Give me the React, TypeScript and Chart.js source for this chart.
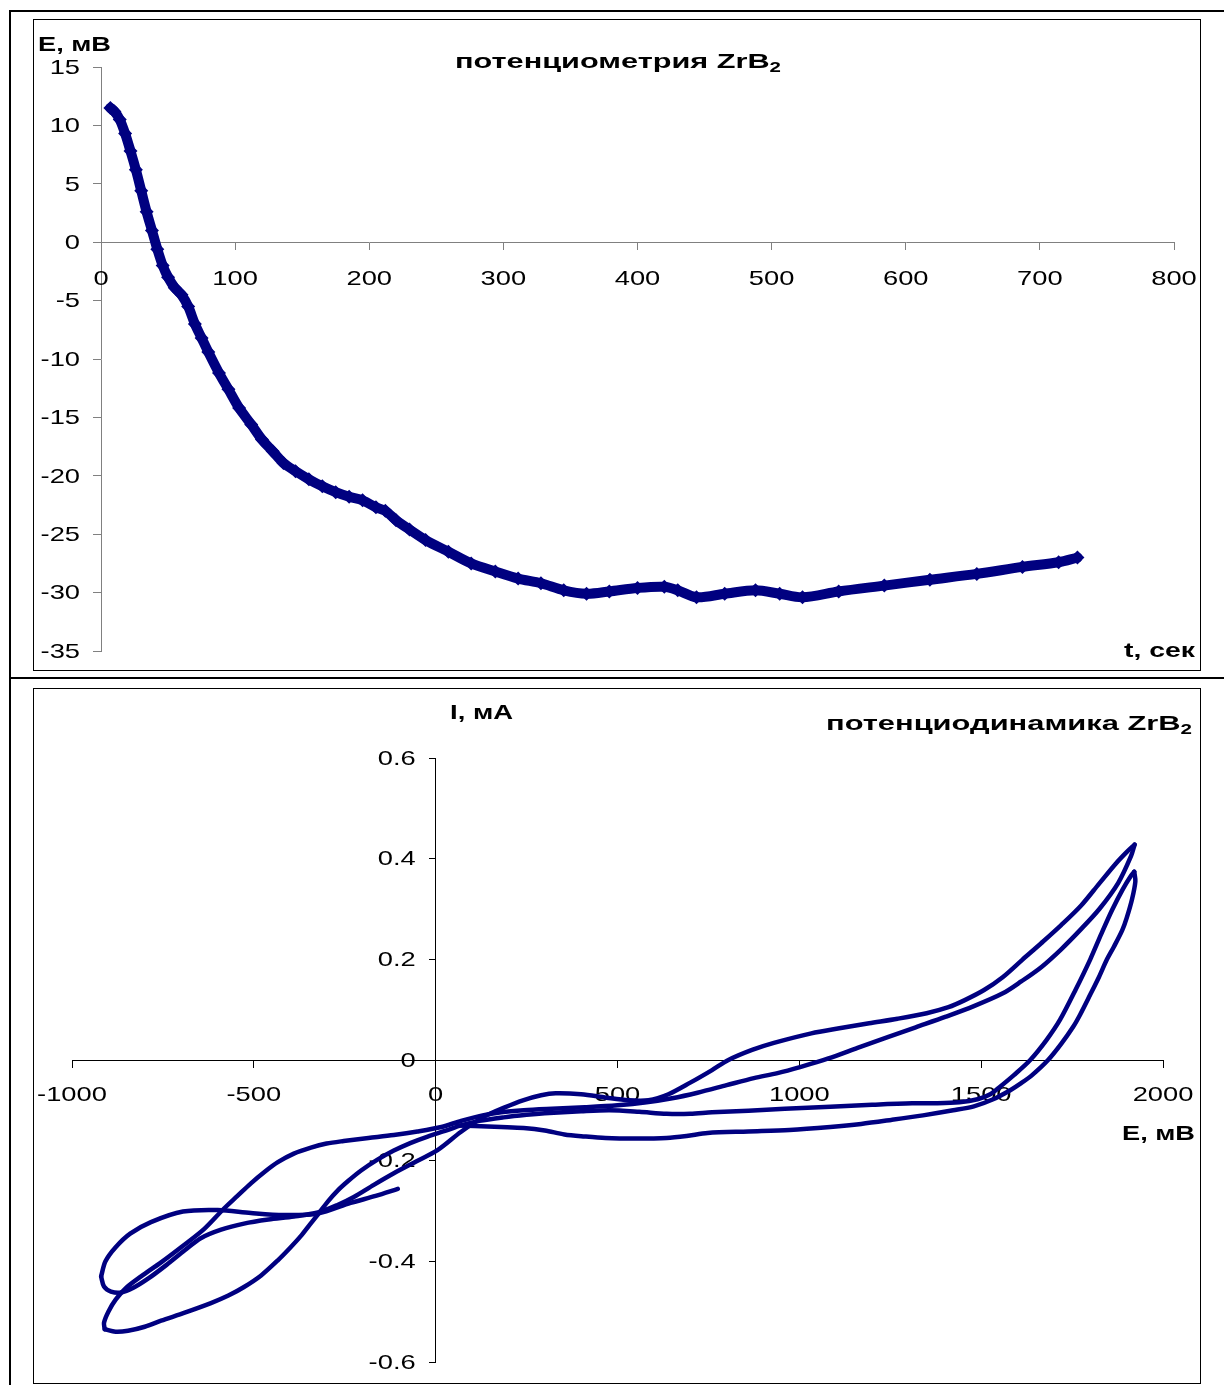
import React, { useEffect, useRef } from 'react';
import { Chart, registerables } from 'chart.js';

Chart.register(...registerables);

const NAVY = '#000080';
const FONT = '"Liberation Sans", Arial, Helvetica, sans-serif';
const TICK_STRETCH = 1.3;

// ---------- potentiometry (top) ----------
const timeSec = [7, 10, 14, 18, 22, 26, 30, 34, 38, 42, 46, 50, 55, 60, 65, 70, 75, 80, 88, 95, 103, 112, 120, 128, 136, 145, 155, 165, 175, 185, 195, 205, 212, 220, 230, 242, 259, 276, 294, 311, 328, 345, 362, 379, 400, 420, 430, 444, 465, 488, 506, 523, 550, 584, 618, 653, 687, 714, 728];
const potentialMv = [11.5, 11.2, 10.5, 9.3, 7.8, 6.2, 4.4, 2.6, 1.0, -0.6, -2.0, -3.0, -3.9, -4.5, -5.5, -7.0, -8.2, -9.4, -11.2, -12.6, -14.2, -15.6, -16.9, -17.9, -18.9, -19.6, -20.3, -20.9, -21.4, -21.8, -22.1, -22.7, -23.0, -23.8, -24.6, -25.5, -26.5, -27.5, -28.2, -28.8, -29.2, -29.8, -30.1, -29.9, -29.6, -29.5, -29.8, -30.4, -30.1, -29.8, -30.1, -30.4, -29.9, -29.4, -28.9, -28.4, -27.8, -27.4, -27.0];
const timeTicks = [0, 100, 200, 300, 400, 500, 600, 700, 800];
const potentialTicks = [15, 10, 5, 0, -5, -10, -15, -20, -25, -30, -35];

// ---------- potentiodynamics (bottom): [E, mV ; I, mA] ----------
const sweepStart: [number, number][] = [
  [-104, -0.256], [-165, -0.27], [-234, -0.284], [-324, -0.305], [-418, -0.308], [-508, -0.304], [-599, -0.298],
  [-695, -0.301], [-783, -0.322], [-840, -0.345], [-880, -0.372], [-908, -0.4], [-920, -0.43],
];
const sweepAnodic1: [number, number][] = [
  [-920, -0.43], [-912, -0.45], [-893, -0.46], [-865, -0.462], [-830, -0.452], [-790, -0.434], [-740, -0.407],
  [-690, -0.378], [-646, -0.354], [-590, -0.337], [-527, -0.325], [-460, -0.317], [-390, -0.311], [-324, -0.303],
  [-270, -0.288], [-225, -0.272], [-170, -0.248], [-115, -0.225], [-55, -0.202], [5, -0.179], [69, -0.143],
  [132, -0.113], [190, -0.094], [240, -0.08], [290, -0.07], [330, -0.066], [400, -0.068], [470, -0.075],
  [530, -0.08], [585, -0.08], [640, -0.068], [700, -0.045], [760, -0.02], [805, 0.0], [870, 0.02], [930, 0.034],
  [1033, 0.053], [1110, 0.063], [1192, 0.073], [1270, 0.082], [1350, 0.093], [1410, 0.105], [1455, 0.119],
  [1508, 0.139], [1560, 0.165], [1613, 0.199], [1665, 0.232], [1720, 0.268], [1775, 0.307], [1824, 0.35],
  [1870, 0.39], [1900, 0.413], [1922, 0.428],
];
const sweepCathodic1: [number, number][] = [
  [1922, 0.428], [1912, 0.405], [1877, 0.352], [1825, 0.3], [1772, 0.258], [1720, 0.22], [1666, 0.185],
  [1610, 0.156], [1561, 0.133], [1480, 0.107], [1403, 0.086], [1320, 0.065], [1245, 0.046], [1160, 0.024],
  [1080, 0.003], [1002, -0.014], [940, -0.026], [875, -0.036], [800, -0.05], [720, -0.065], [650, -0.076],
  [580, -0.084], [500, -0.09], [410, -0.094], [320, -0.097], [242, -0.1], [180, -0.104], [129, -0.11],
  [70, -0.121], [16, -0.133], [-50, -0.142], [-115, -0.149], [-185, -0.155], [-253, -0.161], [-300, -0.166],
  [-343, -0.174], [-390, -0.186], [-434, -0.203], [-470, -0.222], [-508, -0.245], [-545, -0.27], [-582, -0.295],
  [-637, -0.336], [-700, -0.372], [-755, -0.402], [-810, -0.43], [-850, -0.452], [-880, -0.476], [-900, -0.5],
  [-912, -0.522], [-910, -0.535],
];
const sweepAnodic2: [number, number][] = [
  [-910, -0.535], [-880, -0.54], [-846, -0.538], [-800, -0.53], [-755, -0.518], [-690, -0.502], [-618, -0.483],
  [-570, -0.468], [-527, -0.451], [-480, -0.428], [-434, -0.398], [-400, -0.373], [-371, -0.35], [-345, -0.326],
  [-324, -0.307], [-295, -0.28], [-269, -0.259], [-240, -0.24], [-206, -0.22], [-160, -0.198], [-115, -0.18],
  [-70, -0.165], [-22, -0.152], [30, -0.14], [69, -0.13], [120, -0.121], [187, -0.114], [250, -0.109],
  [300, -0.106], [400, -0.102], [478, -0.1], [560, -0.103], [635, -0.107], [700, -0.107], [760, -0.104],
  [860, -0.101], [960, -0.097], [1085, -0.093], [1200, -0.089], [1310, -0.086], [1380, -0.086], [1440, -0.084],
  [1490, -0.078], [1525, -0.068], [1552, -0.053], [1590, -0.03], [1635, 0.0], [1680, 0.04], [1717, 0.08],
  [1760, 0.14], [1800, 0.2], [1830, 0.25], [1860, 0.298], [1890, 0.34], [1912, 0.366], [1921, 0.374],
];
const sweepCathodic2: [number, number][] = [
  [1921, 0.374], [1924, 0.355], [1915, 0.32], [1900, 0.282], [1888, 0.258], [1865, 0.225], [1846, 0.2],
  [1824, 0.165], [1800, 0.13], [1772, 0.09], [1753, 0.066], [1720, 0.032], [1684, 0.0], [1640, -0.03],
  [1610, -0.046], [1580, -0.06], [1533, -0.078], [1480, -0.092], [1423, -0.1], [1340, -0.11], [1253, -0.119],
  [1170, -0.127], [1085, -0.133], [973, -0.139], [860, -0.142], [748, -0.145], [690, -0.151], [635, -0.155],
  [550, -0.156], [467, -0.155], [410, -0.152], [354, -0.148], [300, -0.14], [242, -0.135], [180, -0.133],
  [107, -0.131], [60, -0.13],
];
const cvSweeps = [sweepStart, sweepAnodic1, sweepCathodic1, sweepAnodic2, sweepCathodic2];
const cvPotentialTicks = [-1000, -500, 0, 500, 1000, 1500, 2000];
const cvCurrentTicks = [0.6, 0.4, 0.2, 0, -0.2, -0.4, -0.6];

type Label = { text: string; sub?: string; x: number; base: number; width: number; size: number };

// Arial-like text in the original is horizontally wide: stretch every canvas text around its anchor.
function stretchText(ctx: any, k: number) {
  if (ctx.__origFill) return;
  const orig = ctx.fillText.bind(ctx);
  ctx.__origFill = orig;
  ctx.fillText = function (text: string, x: number, y: number) {
    ctx.save();
    ctx.translate(x, y);
    ctx.scale(k, 1);
    orig(text, 0, 0);
    ctx.restore();
  };
}

const fmt = (v: number) => String(Math.round(v * 1000) / 1000);

function tickLabelsPlugin(cfg: { xTicks: number[]; yTicks: number[]; xGap: number; yGap: number }) {
  return {
    id: 'tickLabels',
    beforeDatasetsDraw(chart: any) {
      const ctx = chart.ctx;
      const xs = chart.scales.x;
      const ys = chart.scales.y;
      const axisY = ys.getPixelForValue(0);
      const axisX = xs.getPixelForValue(0);
      ctx.save();
      ctx.fillStyle = '#000';
      ctx.font = `21px ${FONT}`;
      ctx.textBaseline = 'middle';
      ctx.textAlign = 'center';
      for (const v of cfg.xTicks) ctx.fillText(fmt(v), xs.getPixelForValue(v), axisY + cfg.xGap);
      ctx.textAlign = 'right';
      for (const v of cfg.yTicks) ctx.fillText(fmt(v), axisX - cfg.yGap, ys.getPixelForValue(v) + 1);
      ctx.restore();
    },
  };
}

function labelsPlugin(labels: Label[]) {
  return {
    id: 'freeLabels',
    afterDraw(chart: any) {
      const ctx = chart.ctx;
      const orig = ctx.__origFill || ctx.fillText.bind(ctx);
      ctx.save();
      ctx.fillStyle = '#000';
      ctx.textAlign = 'left';
      ctx.textBaseline = 'alphabetic';
      for (const l of labels) {
        const mainFont = `bold ${l.size}px ${FONT}`;
        const subSize = Math.round(l.size * 0.66);
        const subFont = `bold ${subSize}px ${FONT}`;
        ctx.font = mainFont;
        const w1 = ctx.measureText(l.text).width;
        let w2 = 0;
        if (l.sub) {
          ctx.font = subFont;
          w2 = ctx.measureText(l.sub).width;
        }
        const k = l.width / (w1 + w2);
        ctx.save();
        ctx.translate(l.x, l.base);
        ctx.scale(k, 1);
        ctx.font = mainFont;
        orig(l.text, 0, 0);
        if (l.sub) {
          ctx.font = subFont;
          orig(l.sub, w1, Math.round(subSize * 0.3));
        }
        ctx.restore();
      }
      ctx.restore();
    },
  };
}

function axisOptions(opts: { min: number; max: number; ticks: number[]; pos: any; color: string; tickLength: number }) {
  return {
    type: 'linear',
    min: opts.min,
    max: opts.max,
    position: opts.pos,
    afterBuildTicks: (scale: any) => {
      scale.ticks = opts.ticks.map((v) => ({ value: v }));
    },
    grid: { display: true, drawOnChartArea: false, drawTicks: true, tickLength: opts.tickLength, color: opts.color, lineWidth: 1 },
    border: { display: true, color: opts.color, width: 1 },
    ticks: { display: false, autoSkip: false },
  };
}

function ChartCanvas({ left, top, width, height, build }: { left: number; top: number; width: number; height: number; build: () => any }) {
  const ref = useRef<HTMLCanvasElement>(null);
  useEffect(() => {
    const canvas = ref.current!;
    const ctx = canvas.getContext('2d')!;
    stretchText(ctx, TICK_STRETCH);
    const chart = new Chart(ctx, build());
    return () => chart.destroy();
  }, []);
  return (
    <canvas
      ref={ref}
      width={width}
      height={height}
      style={{ position: 'absolute', left, top, width, height, display: 'block' }}
    />
  );
}

function buildTop() {
  return {
    type: 'scatter',
    data: {
      datasets: [
        {
          data: timeSec.map((t, i) => ({ x: t, y: potentialMv[i] })),
          showLine: true,
          borderColor: NAVY,
          backgroundColor: NAVY,
          borderWidth: 10,
          borderJoinStyle: 'round',
          borderCapStyle: 'round',
          tension: 0.3,
          pointStyle: 'rectRot',
          pointRadius: 7,
          pointBorderWidth: 0,
          pointBackgroundColor: NAVY,
        },
      ],
    },
    options: {
      responsive: false,
      animation: false,
      devicePixelRatio: 1,
      events: [],
      layout: { padding: { left: 67, right: 26, top: 47, bottom: 19 } },
      plugins: { legend: { display: false }, tooltip: { enabled: false }, title: { display: false } },
      scales: {
        x: axisOptions({ min: 0, max: 800, ticks: timeTicks, pos: { y: 0 }, color: '#808080', tickLength: 7 }),
        y: axisOptions({ min: -35, max: 15, ticks: potentialTicks, pos: { x: 0 }, color: '#808080', tickLength: 8 }),
      },
    },
    plugins: [
      tickLabelsPlugin({ xTicks: timeTicks, yTicks: potentialTicks, xGap: 37, yGap: 21 }),
      labelsPlugin([
        { text: 'E, мВ', x: 4, base: 31, width: 73, size: 21 },
        { text: 'потенциометрия ZrB', sub: '2', x: 421, base: 48, width: 326, size: 21 },
        { text: 't, сек', x: 1090, base: 637, width: 71, size: 21 },
      ]),
    ],
  };
}

function buildBottom() {
  return {
    type: 'scatter',
    data: {
      datasets: cvSweeps.map((sweep) => ({
        data: sweep.map(([e, i]) => ({ x: e, y: i })),
        showLine: true,
        borderColor: NAVY,
        backgroundColor: NAVY,
        borderWidth: 4.5,
        borderJoinStyle: 'round',
        borderCapStyle: 'round',
        tension: 0.3,
        pointRadius: 0,
      })),
    },
    options: {
      responsive: false,
      animation: false,
      devicePixelRatio: 1,
      events: [],
      layout: { padding: { left: 38, right: 37, top: 69, bottom: 21 } },
      plugins: { legend: { display: false }, tooltip: { enabled: false }, title: { display: false } },
      scales: {
        x: axisOptions({ min: -1000, max: 2000, ticks: cvPotentialTicks, pos: { y: 0 }, color: '#000', tickLength: 7 }),
        y: axisOptions({ min: -0.6, max: 0.6, ticks: cvCurrentTicks, pos: { x: 0 }, color: '#000', tickLength: 6 }),
      },
    },
    plugins: [
      tickLabelsPlugin({ xTicks: cvPotentialTicks, yTicks: cvCurrentTicks, xGap: 35, yGap: 20 }),
      labelsPlugin([
        { text: 'I, мА', x: 416, base: 30, width: 63, size: 21 },
        { text: 'потенциодинамика ZrB', sub: '2', x: 792, base: 41, width: 366, size: 21 },
        { text: 'E, мВ', x: 1088, base: 451, width: 73, size: 21 },
      ]),
    ],
  };
}

function Line({ left, top, width, height }: { left: number; top: number; width: number; height: number }) {
  return <div style={{ position: 'absolute', left, top, width, height, background: '#000' }} />;
}

function Box({ left, top, width, height }: { left: number; top: number; width: number; height: number }) {
  return (
    <div
      style={{
        position: 'absolute', left, top, width, height, border: '1px solid #000',
        boxSizing: 'border-box', pointerEvents: 'none',
      }}
    />
  );
}

export default function App() {
  return (
    <div style={{ position: 'absolute', left: 0, top: 0, width: 1224, height: 1385, background: '#fff', overflow: 'hidden' }}>
      <ChartCanvas left={34} top={20} width={1166} height={650} build={buildTop} />
      <ChartCanvas left={34} top={689} width={1166} height={694} build={buildBottom} />
      <Box left={33} top={19} width={1168} height={652} />
      <Box left={33} top={688} width={1168} height={696} />
      <Line left={9} top={10} width={1215} height={2} />
      <Line left={9} top={677} width={1215} height={2} />
      <Line left={9} top={10} width={2} height={1375} />
    </div>
  );
}
